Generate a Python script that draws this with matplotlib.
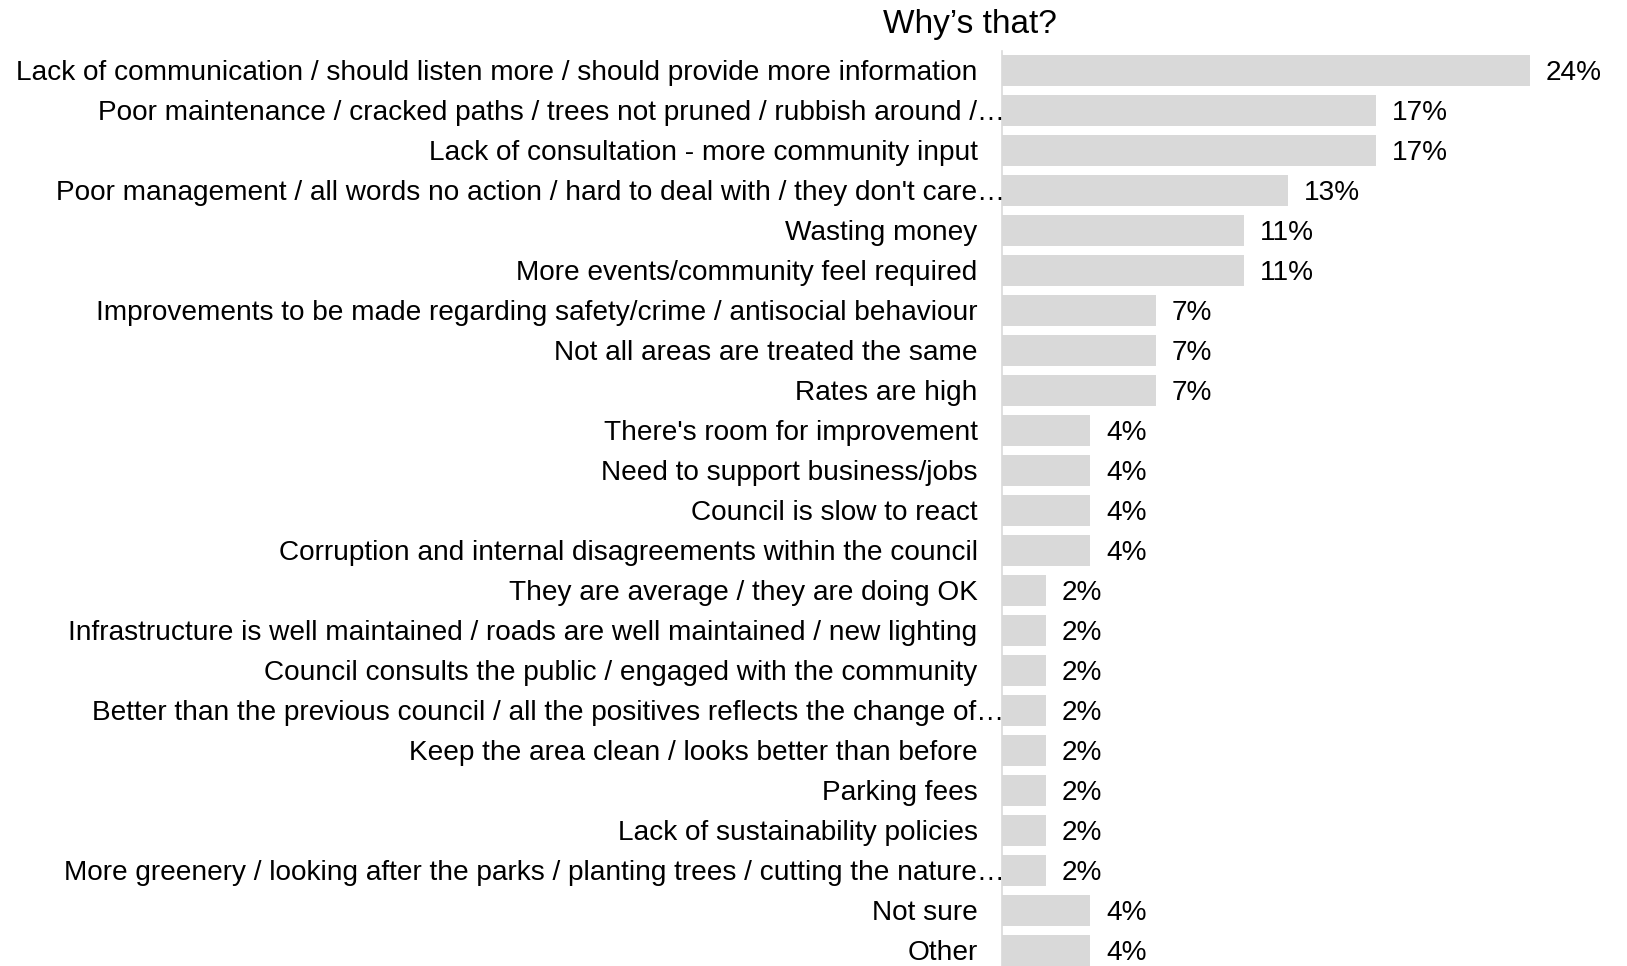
import matplotlib.pyplot as plt

plt.rcParams['font.family'] = ['Liberation Sans', 'DejaVu Sans']

# survey answers, top to bottom
reasons = [
    "Lack of communication / should listen more / should provide more information",
    "Poor maintenance / cracked paths / trees not pruned / rubbish around /…",
    "Lack of consultation - more community input",
    "Poor management / all words no action / hard to deal with / they don't care…",
    "Wasting money",
    "More events/community feel required",
    "Improvements to be made regarding safety/crime / antisocial behaviour",
    "Not all areas are treated the same",
    "Rates are high",
    "There's room for improvement",
    "Need to support business/jobs",
    "Council is slow to react",
    "Corruption and internal disagreements within the council",
    "They are average / they are doing OK",
    "Infrastructure is well maintained / roads are well maintained / new lighting",
    "Council consults the public / engaged with the community",
    "Better than the previous council / all the positives reflects the change of…",
    "Keep the area clean / looks better than before",
    "Parking fees",
    "Lack of sustainability policies",
    "More greenery / looking after the parks / planting trees / cutting the nature…",
    "Not sure",
    "Other",
]
percent = [24, 17, 17, 13, 11, 11, 7, 7, 7, 4, 4, 4, 4,
           2, 2, 2, 2, 2, 2, 2, 2, 4, 4]

W, H = 1627, 966
fig = plt.figure(figsize=(W / 100, H / 100), dpi=100)
ax = fig.add_axes([1002 / W, (H - 970.6) / H, 616 / W, 920 / H])

ypos = list(range(len(reasons)))
ax.barh(ypos, percent, height=0.77, color='#d9d9d9')
ax.set_xlim(0, 28)
ax.set_ylim(len(reasons) - 0.5, -0.5)

# category labels; truncated ones run over the axis line a little
for y, txt in zip(ypos, reasons):
    dx = 1.8 if txt.endswith('…') else -17.6
    ax.annotate(txt, xy=(0, y), xycoords=('axes fraction', 'data'),
                xytext=(dx, -1.5), textcoords='offset points',
                ha='right', va='center', fontsize=20.2, color='black')

# value labels
for y, v in zip(ypos, percent):
    ax.annotate(f'{v}%', xy=(v, y), xytext=(11.5, -1.5), textcoords='offset points',
                ha='left', va='center', fontsize=20.2, color='black')

ax.set_xticks([])
ax.set_yticks([])
for side in ['top', 'right', 'bottom']:
    ax.spines[side].set_visible(False)
ax.spines['left'].set_color('#d9d9d9')
ax.spines['left'].set_linewidth(1.2)

fig.text(970 / W, 1 - 25 / H, 'Why’s that?', ha='center', va='center', fontsize=24)

plt.savefig('out.png', dpi=100)
plt.close()
